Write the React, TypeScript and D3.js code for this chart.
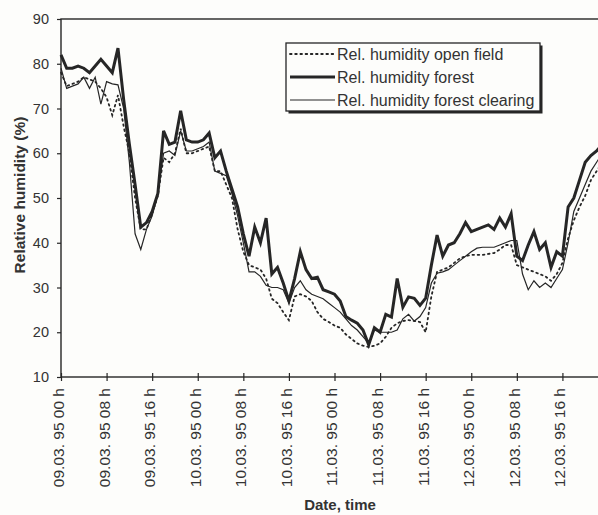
import React, { useEffect, useRef } from 'react';
import * as d3 from 'd3';

// hours since 09.03.95 00 h, one reading per hour
const hours = d3.range(0, 97);

const openField = [
  78, 75, 75.5, 76, 77, 76.5, 76, 74.5, 72.5, 68.5, 73, 66, 60, 50, 43, 43, 46.5, 50.5,
  59, 58, 60, 65.5, 60, 60, 60.5, 61, 61.5, 56, 56, 53, 50, 43, 38, 35, 34.5, 34,
  32, 27.5, 26.5, 24.5, 22.7, 28, 28.5, 28, 27, 24.5, 23, 22.3, 21.5, 21, 19.5, 18.5,
  17.5, 17, 16.7, 17, 17.5, 19, 21, 22, 22.5, 22.7, 22.5, 22.3, 20, 28, 33.5, 34,
  34.5, 35.5, 36.5, 37, 37.3, 37.3, 37.3, 37.5, 37.7, 38.5, 39.5, 39.5, 35, 34.5,
  34, 33.5, 33, 32.5, 31.5, 33, 35.5, 41, 45, 48, 50.5, 54, 56, 58, 60,
];

const forest = [
  82, 79, 79, 79.5, 79, 78, 79.5, 81, 79.5, 78, 83.5, 72, 62, 53, 43.5, 44.5, 47, 51,
  65, 62, 62.5, 69.5, 63, 62.5, 62.5, 63, 64.5, 59, 60.5, 56, 52, 48, 42, 37, 43.5, 40,
  45.5, 33, 34.5, 31, 27, 32, 38, 34, 32, 32.3, 29.5, 29, 28.5, 27, 23.5, 22.7,
  22, 20.5, 17.2, 21, 20, 24, 23.4, 32, 25.6, 27.9, 27.6, 26, 27.6, 35, 41.7, 37,
  39.5, 40, 42, 44.5, 42.5, 43, 43.5, 44, 43, 45.5, 43.5, 46.5, 37, 36,
  39.5, 42.5, 38.5, 40, 34.5, 38, 37, 48, 50, 54, 58, 59.5, 60.5, 62, 63,
];

const clearing = [
  79, 74.5, 75, 75.5, 77, 74.5, 77, 71, 76, 75.5, 75.3, 70, 58, 42, 38.5, 43, 46, 51,
  60, 60.5, 59.5, 65, 60.5, 60.5, 61, 61.5, 62.5, 56, 55.5, 55, 51, 46, 40, 33.5, 33.5, 32.5,
  30.5, 30, 30, 29.5, 26.5, 30, 31.5, 29.5, 28.5, 28, 27.5, 26.5, 25.5, 24.5, 23, 21.5,
  20.5, 19, 17.5, 20.5, 20, 20, 20, 20.5, 23, 24, 22.5, 23.5, 25.5, 31, 33.2, 33.5,
  34, 35, 36, 37, 38, 38.8, 39, 39, 39, 39.5, 40, 40.5, 40.5, 33,
  29.5, 31.5, 30, 31, 30, 32, 34, 40, 47, 50, 53, 56, 58, 60, 61,
];

const yTicks = [10, 20, 30, 40, 50, 60, 70, 80, 90];
const xTickHours = [0, 8, 16, 24, 32, 40, 48, 56, 64, 72, 80, 88];
const xTickLabels = [
  '09.03. 95 00 h', '09.03. 95 08 h', '09.03. 95 16 h',
  '10.03. 95 00 h', '10.03. 95 08 h', '10.03. 95 16 h',
  '11.03. 95 00 h', '11.03. 95 08 h', '11.03. 95 16 h',
  '12.03. 95 00 h', '12.03. 95 08 h', '12.03. 95 16 h',
];
const legendLabels = [
  'Rel. humidity open field',
  'Rel. humidity forest',
  'Rel. humidity forest clearing',
];

const W = 598;
const H = 515;
const INK = '#262626';
const FONT = 'Arial, "Liberation Sans", sans-serif';

function drawChart(el: SVGSVGElement) {
  const svg = d3.select(el);
  svg.selectAll('*').remove();

  const left = 61, top = 19, bottom = 377, right = 608;
  const x = d3.scaleLinear().domain([0, 96]).range([left, right]);
  const y = d3.scaleLinear().domain([10, 90]).range([bottom, top]);

  svg.append('rect').attr('width', W).attr('height', H).attr('fill', '#fdfdfb');

  // frame
  svg.append('rect')
    .attr('x', left).attr('y', top)
    .attr('width', right - left).attr('height', bottom - top)
    .attr('fill', 'none').attr('stroke', INK).attr('stroke-width', 1.4);

  // y axis
  const yAxis = svg.append('g')
    .attr('transform', `translate(${left},0)`)
    .call(d3.axisLeft(y).tickValues(yTicks).tickSize(4).tickPadding(8));
  yAxis.select('.domain').remove();
  yAxis.selectAll('line').attr('stroke', INK).attr('stroke-width', 1.2);
  yAxis.selectAll('text')
    .attr('font-family', FONT).attr('font-size', 14.5).attr('fill', '#333');

  // x axis
  const xAxis = svg.append('g')
    .attr('transform', `translate(0,${bottom})`)
    .call(d3.axisBottom(x).tickValues(xTickHours).tickSize(4)
      .tickFormat((d, i) => xTickLabels[i]));
  xAxis.select('.domain').remove();
  xAxis.selectAll('line').attr('y1', -4).attr('stroke', INK).attr('stroke-width', 1.2);
  xAxis.selectAll('text')
    .attr('font-family', FONT).attr('font-size', 15.5).attr('fill', '#333')
    .attr('text-anchor', 'end')
    .attr('transform', 'rotate(-90)')
    .attr('x', -11).attr('y', -3).attr('dy', '0.35em');

  // axis titles
  svg.append('text')
    .attr('transform', 'translate(25,195) rotate(-90)')
    .attr('text-anchor', 'middle')
    .attr('font-family', FONT).attr('font-size', 15.5).attr('font-weight', 'bold')
    .attr('fill', '#333')
    .text('Relative humidity (%)');

  svg.append('text')
    .attr('x', 340).attr('y', 510)
    .attr('text-anchor', 'middle')
    .attr('font-family', FONT).attr('font-size', 15).attr('font-weight', 'bold')
    .attr('fill', '#333')
    .text('Date, time');

  const styles = [
    { data: openField, width: 1.8, dash: '1.6 3.6', cap: 'round' },
    { data: forest, width: 3, dash: null, cap: 'butt' },
    { data: clearing, width: 1.2, dash: null, cap: 'butt' },
  ];

  const plot = svg.append('g');
  styles.forEach(s => {
    const line = d3.line<number>()
      .x((d, i) => x(hours[i]))
      .y(d => y(d));
    plot.append('path')
      .datum(s.data)
      .attr('fill', 'none')
      .attr('stroke', INK)
      .attr('stroke-width', s.width)
      .attr('stroke-linejoin', 'miter')
      .attr('stroke-linecap', s.cap)
      .attr('stroke-dasharray', s.dash)
      .attr('d', line);
  });

  // legend
  const lg = svg.append('g').attr('transform', 'translate(286,43)');
  lg.append('rect')
    .attr('x', 2.5).attr('y', 2.5).attr('width', 254).attr('height', 68)
    .attr('fill', INK);
  lg.append('rect')
    .attr('width', 254).attr('height', 68)
    .attr('fill', '#fdfdfb').attr('stroke', INK).attr('stroke-width', 1.3);
  legendLabels.forEach((lab, i) => {
    const s = styles[i];
    const ly = 11 + i * 23;
    lg.append('line')
      .attr('x1', 4).attr('x2', 49).attr('y1', ly).attr('y2', ly)
      .attr('stroke', INK).attr('stroke-width', s.width)
      .attr('stroke-linecap', s.cap)
      .attr('stroke-dasharray', s.dash);
    lg.append('text')
      .attr('x', 51).attr('y', ly).attr('dy', '0.35em')
      .attr('font-family', FONT).attr('font-size', 16).attr('fill', '#333')
      .text(lab);
  });
}

export default function App() {
  const ref = useRef<SVGSVGElement>(null);
  useEffect(() => {
    if (ref.current) drawChart(ref.current);
  }, []);
  return (
    <div style={{ position: 'absolute', left: 0, top: 0 }}>
      <svg ref={ref} width={W} height={H} style={{ display: 'block' }} />
    </div>
  );
}
